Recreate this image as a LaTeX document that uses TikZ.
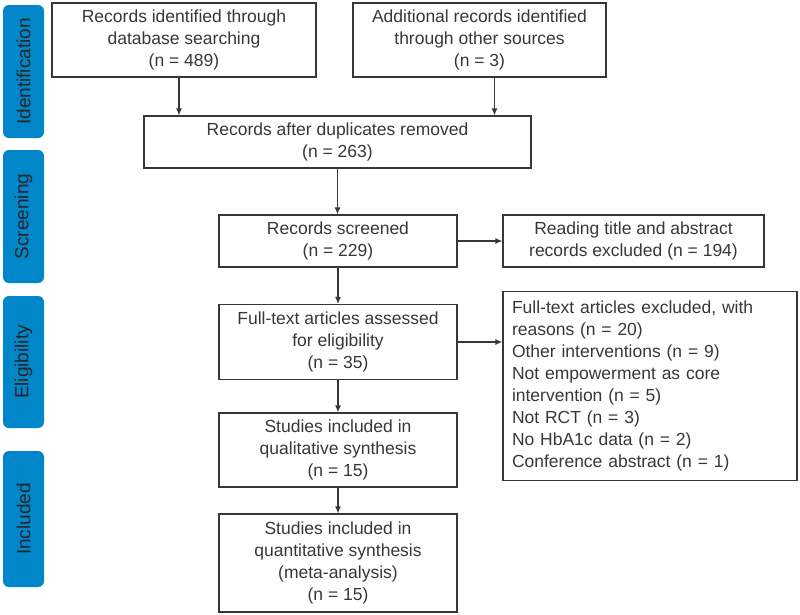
\documentclass[tikz,border=0pt]{standalone}
\usepackage{fontspec}
\setmainfont{Liberation Sans}
\usetikzlibrary{arrows.meta}
\definecolor{stage}{RGB}{0,134,201}
\definecolor{ink}{RGB}{55,55,55}

\tikzset{
  box/.style={draw=ink, line width=1.2pt, text=ink, align=center, inner sep=3pt,
    font=\fontsize{17.5}{22}\selectfont},
  arr/.style={draw=ink, line width=1.2pt, -{Latex[length=7pt,width=6pt]}},
  stagebox/.style={fill=stage, rounded corners=6pt, minimum height=41pt, inner sep=0pt,
    rotate=90, text=black!85, font=\fontsize{19}{22}\selectfont}
}

\begin{document}
\begin{tikzpicture}[x=1pt,y=-1pt]
\useasboundingbox (0,0) rectangle (800,614);

\foreach \name/\y/\h in {Identification/71.5/133, Screening/216.5/133, Eligibility/362/132, Included/519/136}
{
\node[stagebox, minimum width=\h] (\name) at (23.5,\y) {\name};
}

\node[box, minimum width=264, minimum height=74] (db) at (184,40)
  {Records identified through\\database searching\\(n = 489)};
\node[box, minimum width=253, minimum height=74] (other) at (479.5,40)
  {Additional records identified\\through other sources\\(n = 3)};
\node[box, minimum width=387, minimum height=52] (dup) at (337.5,142)
  {Records after duplicates removed\\(n = 263)};
\node[box, minimum width=238, minimum height=52] (scr) at (338,241)
  {Records screened\\(n = 229)};
\node[box, minimum width=261, minimum height=52] (title) at (633.5,241)
  {Reading title and abstract\\records excluded (n = 194)};
\node[box, minimum width=238, minimum height=75] (full) at (338,342)
  {Full-text articles assessed\\for eligibility\\(n = 35)};
\node[box, align=left, text width=276, inner sep=9pt, minimum height=186] (excl) at (650,386)
  {Full-text articles excluded, with\\reasons (n = 20)\\Other interventions (n = 9)\\Not empowerment as core\\intervention (n = 5)\\Not RCT (n = 3)\\No HbA1c data (n = 2)\\Conference abstract (n = 1)};
\node[box, minimum width=238, minimum height=74] (qual) at (338,450)
  {Studies included in\\qualitative synthesis\\(n = 15)};
\node[box, minimum width=238, minimum height=98] (quant) at (338,563)
  {Studies included in\\quantitative synthesis\\(meta-analysis)\\(n = 15)};

\draw[arr] ([xshift=-5pt]db.south) -- ([xshift=-5pt]db.south |- dup.north);
\draw[arr] ([xshift=15pt]other.south) -- ([xshift=15pt]other.south |- dup.north);
\draw[arr] (dup.south) -- (dup.south |- scr.north);
\draw[arr] (scr) -- (title);
\draw[arr] (scr) -- (full);
\draw[arr] (full.east) -- (full.east -| excl.west);
\draw[arr] (full) -- (qual);
\draw[arr] (qual) -- (quant);
\end{tikzpicture}
\end{document}
